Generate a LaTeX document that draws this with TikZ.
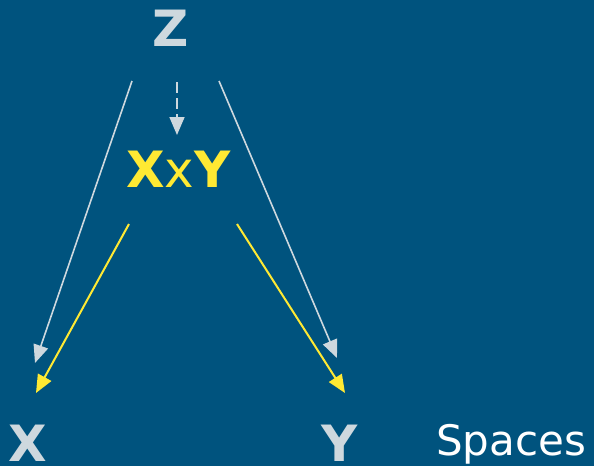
\documentclass[tikz,border=0pt]{standalone}
\usepackage{fontspec}
\setmainfont{DejaVu Sans}
\usetikzlibrary{arrows.meta}
\definecolor{bgblue}{RGB}{0,83,126}
\definecolor{lightgray}{RGB}{206,216,222}
\definecolor{brightyellow}{RGB}{255,233,51}
\tikzset{
  lbl/.style={inner sep=0pt, anchor=base, font=\fontsize{50}{50}\selectfont\bfseries},
  grayarrow/.style={draw=lightgray, line width=1.6pt, -{Triangle[length=18pt,width=15pt]}},
  yellowarrow/.style={draw=brightyellow, line width=2pt, -{Triangle[length=18pt,width=15pt]}},
}
\begin{document}
\begin{tikzpicture}[x=1pt,y=-1pt]
\fill[bgblue] (0,0) rectangle (594,466);
\useasboundingbox (0,0) rectangle (594,466);
\node[lbl, text=lightgray] (z) at (171,46.5) {Z};
\node[lbl, text=brightyellow] (xy) at (178.5,187) {X{\mdseries x}Y};
\node[lbl, text=lightgray] (x) at (28,461) {X};
\node[lbl, text=lightgray] (y) at (340,461) {Y};
\node[inner sep=0pt, anchor=base west, text=white, font=\fontsize{42}{42}\selectfont] (sp) at (436,455) {Spaces};
% connector end points
\coordinate (zl) at (132,81);
\coordinate (zr) at (219,81);
\coordinate (zd) at (177,82);
\coordinate (xyt) at (177,135);
\coordinate (xg) at (35,363);
\coordinate (yg) at (337,358);
\coordinate (xyl) at (129,224);
\coordinate (xyr) at (237,224);
\coordinate (xyx) at (36,393);
\coordinate (xyy) at (345,393);
\draw[grayarrow] (zl) -- (xg);
\draw[grayarrow] (zr) -- (yg);
\draw[grayarrow, dash pattern=on 11pt off 5pt] (zd) -- (xyt);
\draw[yellowarrow] (xyl) -- (xyx);
\draw[yellowarrow] (xyr) -- (xyy);
\end{tikzpicture}
\end{document}
